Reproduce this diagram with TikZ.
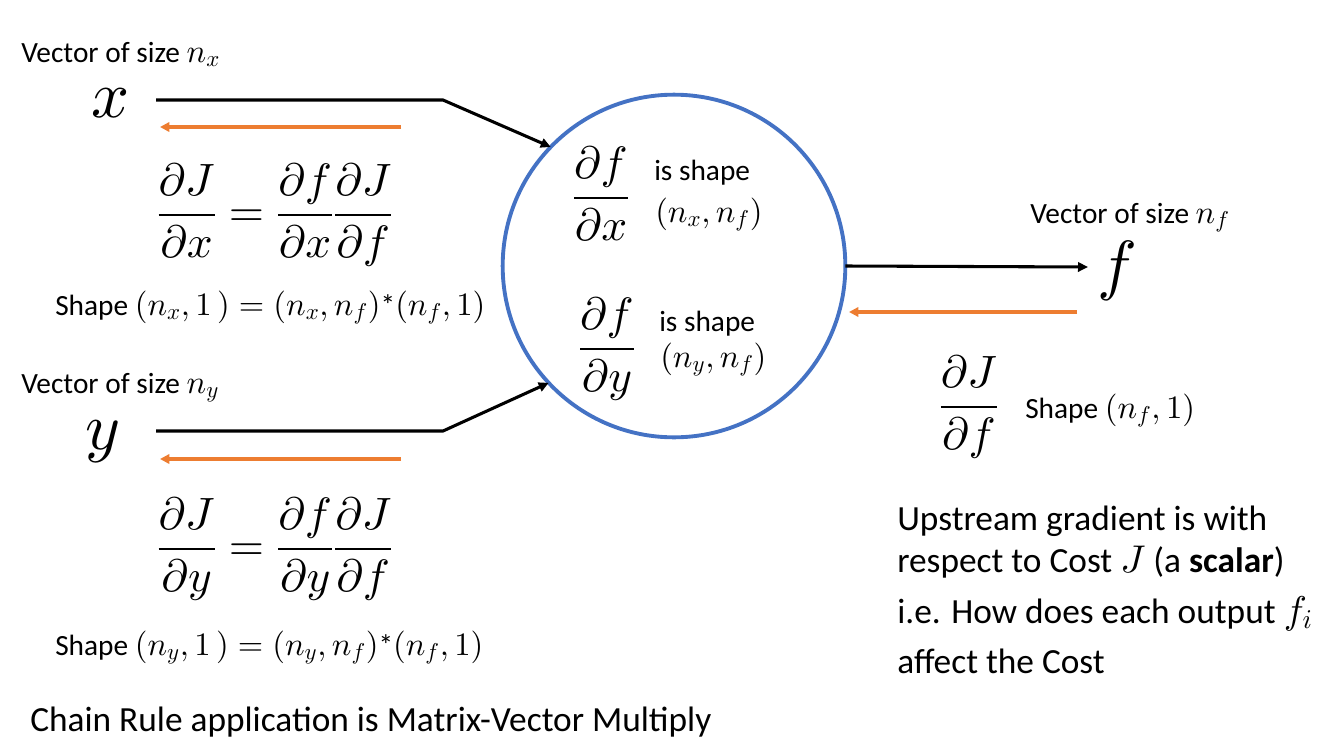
\documentclass[tikz,border=0pt]{standalone}
\usepackage[no-math]{fontspec}
\setmainfont{Carlito}
\DeclareFontShape{OML}{cmm}{m}{it}{<->cmmi10}{}
\DeclareFontShape{OMS}{cmsy}{m}{n}{<->cmsy10}{}
\DeclareFontShape{OMX}{cmex}{m}{n}{<->cmex10}{}
\DeclareFontShape{OT1}{cmr}{m}{n}{<->cmr10}{}
\usetikzlibrary{arrows.meta}
\definecolor{cblue}{HTML}{4472C4}
\definecolor{corange}{HTML}{ED7D31}
\newcommand\smallsz{\fontsize{22pt}{26pt}\selectfont}
\newcommand\largesz{\fontsize{26.5pt}{31.5pt}\selectfont}
\newcommand\fracsz{\fontsize{34pt}{40pt}\selectfont}
\newcommand\varsz{\fontsize{50pt}{60pt}\selectfont}
\newcommand\sm[1]{{\fontsize{24.5pt}{26pt}\selectfont$#1$}}
\newcommand\lm[1]{{\fontsize{29pt}{31pt}\selectfont$#1$}}
\begin{document}
\begin{tikzpicture}[x=0.75pt,y=-0.75pt,
  txt/.style={anchor=base west,inner sep=0pt,font=\smallsz},
  bigtxt/.style={anchor=base west,inner sep=0pt,font=\largesz},
  eq/.style={anchor=base,inner sep=0pt,font=\fracsz},
  var/.style={anchor=base,inner sep=0pt,font=\varsz},
  fwd/.style={draw=black,line width=2.3pt,-{Triangle[length=7.5pt,width=7pt]}},
  bwd/.style={draw=corange,line width=2.3pt,-{Triangle[length=7pt,width=7pt]}},
  node circ/.style={circle,draw=cblue,line width=2.9pt,minimum size=257pt,inner sep=0pt,outer sep=0pt}]
\useasboundingbox (0,0) rectangle (1325,739);

% central node
\node[node circ] (c) at (674,266) {};

% x input
\node[txt] (vx) at (21,62) {Vector of size \sm{n_x}};
\node[var] (x) at (111,117) {$x$};
\coordinate (xs) at (156,100);
\coordinate (xb) at (443,100);
\draw[fwd] (xs) -- (xb) -- (c.136.4);
\coordinate (xo1) at (401,127);
\coordinate (xo2) at (160,127);
\draw[bwd] (xo1) -- (xo2);
\node[eq] (ex) at (275,226) {$\displaystyle\frac{\partial J}{\partial x}=\frac{\partial f}{\partial x}\frac{\partial J}{\partial f}$};
\node[txt] (sx) at (55,315) {Shape \sm{(n_x,1\,)=\bigl(n_x,n_f\bigr)}*\sm{\bigl(n_f,1\bigr)}};

% y input
\node[txt] (vy) at (21,393) {Vector of size \sm{n_y}};
\node[var] (y) at (103,449) {$y$};
\coordinate (ys) at (156,431);
\coordinate (yb) at (443,431);
\draw[fwd] (ys) -- (yb) -- (c.223.9);
\coordinate (yo1) at (401,459);
\coordinate (yo2) at (160,459);
\draw[bwd] (yo1) -- (yo2);
\node[eq] (ey) at (275,560) {$\displaystyle\frac{\partial J}{\partial y}=\frac{\partial f}{\partial y}\frac{\partial J}{\partial f}$};
\node[txt] (sy) at (55,655) {Shape \sm{\bigl(n_y,1\,\bigr)=\bigl(n_y,n_f\bigr)}*\sm{\bigl(n_f,1\bigr)}};

% inside the circle
\node[eq] (dfx) at (601,209) {$\displaystyle\frac{\partial f}{\partial x}$};
\node[txt] (isx) at (654,180) {is shape};
\node[txt] (shx) at (655,222) {\sm{\bigl(n_x,n_f\bigr)}};
\node[eq] (dfy) at (607,360) {$\displaystyle\frac{\partial f}{\partial y}$};
\node[txt] (isy) at (659,331) {is shape};
\node[txt] (shy) at (660,367) {\sm{\bigl(n_y,n_f\bigr)}};

% output f
\node[txt] (vf) at (1030,223) {Vector of size \sm{n_f}};
\node[var] (f) at (1117,287) {$f$};
\coordinate (fa) at (1088,267);
\draw[fwd] (c.east) -- (fa);
\coordinate (fo1) at (1077,312);
\coordinate (fo2) at (849,312);
\draw[bwd] (fo1) -- (fo2);
\node[eq] (djf) at (969,418) {$\displaystyle\frac{\partial J}{\partial f}$};
\node[txt] (sf) at (1025,418) {Shape \sm{(n_f,1)}};

% explanatory text
\node[bigtxt] (u1) at (897,530) {Upstream gradient is with};
\node[bigtxt] (u2) at (897,572) {respect to Cost \lm{J} (a \textbf{scalar})};
\node[bigtxt] (u3) at (897,623) {i.e. How does each output \lm{f_i}};
\node[bigtxt] (u4) at (897,673) {affect the Cost};
\node[bigtxt] (cr) at (30,731) {Chain Rule application is Matrix-Vector Multiply};
\end{tikzpicture}
\end{document}
